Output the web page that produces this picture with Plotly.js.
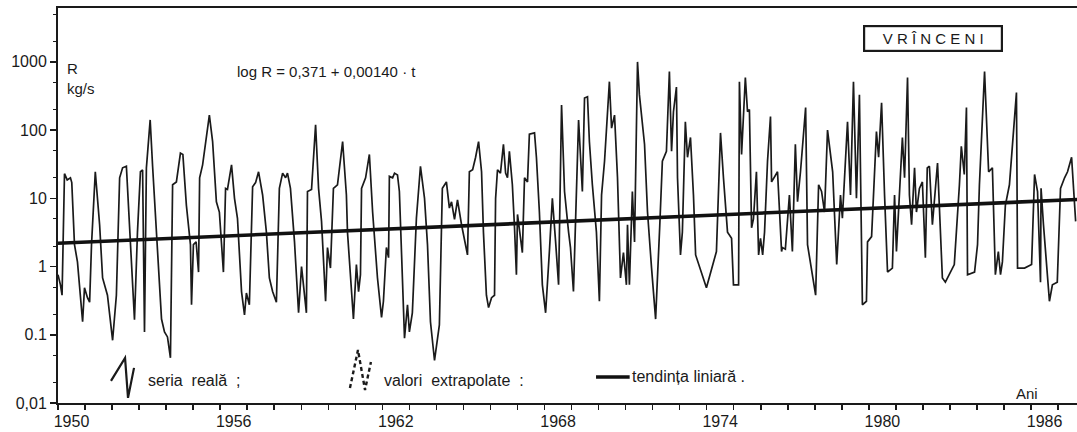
<!DOCTYPE html>
<html>
<head>
<meta charset="utf-8">
<script src="https://cdn.plot.ly/plotly-3.0.1.min.js"></script>
<style>html,body{margin:0;padding:0;background:#fff;}#chart{width:1077px;height:432px;}</style>
</head>
<body>
<div id="chart"></div>
<script>
// Real series (vertices): decimal year and R in kg/s
const years = [
1950.00,1950.09,1950.15,1950.24,1950.34,1950.46,1950.51,1950.61,1950.72,1950.91,1950.98,
1951.09,1951.17,1951.24,1951.38,1951.54,1951.65,1951.83,
1952.02,1952.16,1952.28,1952.39,1952.53,1952.72,1952.83,1952.94,
1953.05,1953.13,1953.20,1953.27,1953.41,1953.50,1953.64,1953.76,1953.83,1953.94,
1954.05,1954.16,1954.24,1954.38,1954.53,1954.62,1954.75,1954.90,1954.94,
1955.01,1955.11,1955.20,1955.24,1955.35,1955.49,1955.60,1955.72,1955.86,1955.97,
1956.05,1956.12,1956.20,1956.27,1956.42,1956.53,1956.64,1956.79,1956.90,1956.97,
1957.08,1957.20,1957.31,1957.42,1957.57,1957.71,1957.82,1957.94,
1958.08,1958.19,1958.31,1958.42,1958.49,1958.60,1958.75,1958.90,
1959.01,1959.08,1959.19,1959.23,1959.38,1959.53,1959.64,1959.75,1959.90,1959.97,
1960.08,1960.19,1960.34,1960.53,1960.67,1960.71,1960.93,
1961.04,1961.12,1961.19,1961.23,1961.38,1961.52,1961.64,1961.82,1961.97,
1962.04,1962.15,1962.23,1962.26,1962.38,1962.45,1962.56,1962.63,1962.71,1962.82,1962.93,
1963.00,1963.11,1963.26,1963.41,1963.56,1963.67,1963.78,1963.93,
1964.11,1964.22,1964.37,1964.48,1964.56,1964.67,1964.78,1964.93,
1965.11,1965.15,1965.22,1965.34,1965.45,1965.56,1965.67,1965.74,1965.85,1965.93,
1966.04,1966.15,1966.19,1966.26,1966.37,1966.48,1966.56,1966.63,1966.70,1966.81,1966.89,1966.96,
1967.00,1967.11,1967.18,1967.26,1967.37,1967.44,1967.63,1967.70,1967.81,1967.92,
1968.04,1968.18,1968.29,1968.41,1968.52,1968.63,1968.74,1968.89,1968.96,
1969.07,1969.26,1969.40,1969.48,1969.59,1969.66,1969.77,1969.92,
1970.03,1970.11,1970.22,1970.29,1970.40,1970.48,1970.59,1970.70,1970.81,1970.92,
1971.03,1971.07,1971.14,1971.25,1971.33,1971.44,1971.51,1971.70,1971.81,1971.96,
1972.11,1972.26,1972.36,1972.51,1972.62,1972.70,1972.77,1972.88,1972.92,
1973.03,1973.10,1973.21,1973.29,1973.40,1973.51,1973.59,1973.81,1973.99,
1974.36,1974.51,1974.62,1974.77,1974.92,1974.99,
1975.18,1975.21,1975.29,1975.43,1975.51,1975.58,1975.66,1975.73,1975.84,1975.92,1975.99,
1976.07,1976.14,1976.25,1976.36,1976.40,1976.62,1976.77,1976.80,1976.91,
1977.06,1977.17,1977.28,1977.36,1977.47,1977.66,1977.73,
1978.03,1978.14,1978.25,1978.36,1978.47,1978.66,1978.81,1978.95,
1979.02,1979.21,1979.32,1979.43,1979.54,1979.65,1979.76,1979.91,1979.95,
1980.10,1980.28,1980.36,1980.47,1980.58,1980.69,1980.87,1980.95,
1981.02,1981.24,1981.32,1981.43,1981.50,1981.58,1981.69,1981.76,1981.87,1981.98,
1982.09,1982.16,1982.24,1982.35,1982.54,1982.72,1982.83,
1983.16,1983.35,1983.42,1983.53,1983.61,1983.65,1983.91,
1984.02,1984.09,1984.28,1984.43,1984.57,1984.68,1984.79,1984.87,1984.94,
1985.05,1985.20,1985.31,1985.46,1985.50,1985.76,
1986.02,1986.13,1986.24,1986.35,1986.37,1986.46,1986.68,1986.79,1986.97,
1987.09,1987.24,1987.35,1987.50,1987.57,1987.65
];
const rValues = [
0.76,0.54,0.38,23,18.6,20,17,2.1,1.17,0.155,0.49,
0.35,0.3,2.1,24.5,4.1,0.68,0.38,
0.083,0.38,20,28,29.5,1.35,0.166,3.2,
24.5,26,0.11,28,141,29.5,3.2,0.38,0.17,0.11,
0.093,0.046,15.8,17.4,46,44,7.9,2.1,0.275,
2.1,2.3,0.83,20,31,78,166,68,8.9,6.3,
2.3,0.83,14,13.5,31,10,5.1,0.43,0.195,0.41,
0.275,14.8,17,24.5,11.2,3.2,0.68,0.43,
0.3,14,23.4,20,23.4,14,2.3,0.21,
1.0,0.54,0.21,12.6,13.5,120,14,4.6,0.31,1.9,
0.95,14,15.8,68,11.2,3.2,0.17,
1.07,0.43,0.76,14,20,44,6.3,0.68,0.18,
0.31,1.9,1.35,21,20,23.4,22,12.6,1.66,0.089,0.275,
0.11,0.21,5.1,29.5,10,2.1,0.155,0.042,
0.14,14,17.4,7.2,8.9,4.9,9.5,4.1,
1.66,1.48,24.5,26.3,40,68,24.5,3.2,0.38,0.25,
0.35,0.38,10,26.3,23.4,62,23.4,20,49,15.8,3.7,0.76,
5.8,2.3,1.6,20,17.4,87,91,40,6.3,0.54,
0.21,1.66,10,2.3,0.54,234,12.6,3.2,1.9,
0.43,141,12.6,295,309,68,15.8,3.2,
0.31,11.2,35,107,513,107,166,20,0.68,1.6,
0.54,4.1,0.54,12.6,2.3,1000,331,62,6.3,0.95,
0.17,3.7,35,49,724,49,186,427,20,
1.48,3.2,132,40,78,11.2,1.48,0.83,0.49,
1.66,91,20,3.2,2.6,0.54,
0.54,513,44,589,186,200,3.7,5,24.5,1.48,2.6,
1.48,3.2,35,158,17.4,24.5,1.66,1.9,1.8,
11.2,1.66,62,8.9,24.5,214,2.1,
0.38,15.8,12.6,6.3,100,24.5,1.07,11.2,
5.1,132,11.2,513,10,331,0.275,0.31,2.3,
2.75,95,40,251,11.2,0.83,0.95,11.2,
1.66,78,20,589,11.2,4.1,28,6.3,14,17.4,
1.35,28,29.5,4.1,33,0.68,0.59,
1.07,15.8,58,22.4,214,0.76,0.83,
2.1,15.8,724,24.5,28,0.76,1.66,0.76,1.17,
7.9,15.8,68,355,0.95,0.95,
1.07,22.4,12.6,0.59,14,4.1,0.31,0.54,0.59,
14,20,24.5,40,15.8,4.6
];
// Linear trend (log R = 0,371 + 0,00140 t), end values
const trendYears = [1950.0, 1987.70];
const trendValues = [2.2, 9.6];

// Axis labels
const yTickVals = [0.01, 0.1, 1, 10, 100, 1000];
const yTickText = ['0,01', '0.1', '1', '10', '100', '1000'];
const yMinorVals = [0.02,0.05,0.2,0.5,2,5,20,50,200,500,2000,5000];
const xTickYears = [1950,1951,1952,1953,1954,1955,1956,1957,1958,1959,1960,1961,1962,1963,1964,1965,1966,1967,1968,1969,1970,1971,1972,1973,1974,1975,1976,1977,1978,1979,1980,1981,1982,1983,1984,1985,1986,1987];
const xLabelYears = [1950, 1956, 1962, 1968, 1974, 1980, 1986];
const xLabelPos = xLabelYears.map(y => y + 0.5);
const xLabelText = xLabelYears.map(String);

const FONT = 'Liberation Sans, Arial, sans-serif';
const INK = '#1a1a1a';

const traces = [
  {x: years, y: rValues, type: 'scatter', mode: 'lines', xaxis: 'x', yaxis: 'y',
   line: {color: INK, width: 1.7}, hoverinfo: 'skip', showlegend: false},
  {x: trendYears, y: trendValues, type: 'scatter', mode: 'lines', xaxis: 'x2', yaxis: 'y',
   line: {color: '#111', width: 3.6}, hoverinfo: 'skip', showlegend: false}
];

function zig(pts, dash, w) {
  let p = 'M' + pts.map(q => q[0] + ',' + q[1]).join(' L');
  return {type: 'path', xref: 'paper', yref: 'paper', path: p,
          line: {color: INK, width: w || 2, dash: dash || 'solid'}};
}

const xRange = [1950.0, 1987.70];

const layout = {
  width: 1077, height: 432,
  margin: {l: 58, r: 0, t: 8, b: 29},
  paper_bgcolor: '#fff', plot_bgcolor: '#fff',
  font: {family: FONT, color: INK, size: 15},
  showlegend: false,
  xaxis: {
    range: xRange, showgrid: false, zeroline: false,
    showline: true, linecolor: INK, linewidth: 2, mirror: true,
    tickmode: 'array', tickvals: xTickYears, ticktext: xTickYears.map(() => ''),
    ticks: 'outside', ticklen: 5, tickwidth: 1.5, tickcolor: INK
  },
  xaxis2: {
    range: xRange, overlaying: 'x', anchor: 'y', side: 'bottom',
    showgrid: false, zeroline: false, showline: false,
    tickmode: 'array', tickvals: xLabelPos, ticktext: xLabelText,
    ticks: 'outside', ticklen: 4, tickcolor: 'rgba(0,0,0,0)',
    tickfont: {size: 16, family: FONT, color: INK}
  },
  yaxis: {
    type: 'log', range: [-2, 3.79], showgrid: false, zeroline: false,
    showline: true, linecolor: INK, linewidth: 2, mirror: false,
    tickmode: 'array', tickvals: yTickVals, ticktext: yTickText,
    ticks: 'outside', ticklen: 6, tickwidth: 1.5, tickcolor: INK,
    tickfont: {size: 16, family: FONT, color: INK},
    minor: {tickmode: 'array', tickvals: yMinorVals, ticks: 'outside',
            ticklen: 3, tickwidth: 1, tickcolor: INK, showgrid: false}
  },
  shapes: [
    zig([[0.0520,0.056],[0.0658,0.114],[0.0687,0.013],[0.0746,0.089]], 'solid', 2.2),
    zig([[0.2865,0.038],[0.2944,0.134],[0.3013,0.033],[0.3071,0.104]], '4px,3px', 2.4),
    {type: 'line', xref: 'paper', yref: 'paper', x0: 0.528, x1: 0.561, y0: 0.066, y1: 0.066,
     line: {color: '#111', width: 3.6}}
  ],
  annotations: [
    {text: 'R', xref: 'paper', yref: 'paper', x: 0.007, y: 0.848, xanchor: 'left', yanchor: 'middle', showarrow: false, font: {size: 15}},
    {text: 'kg/s', xref: 'paper', yref: 'paper', x: 0.007, y: 0.797, xanchor: 'left', yanchor: 'middle', showarrow: false, font: {size: 15}},
    {text: 'log R = 0,371 + 0,00140 · t', xref: 'paper', yref: 'paper', x: 0.174, y: 0.838, xanchor: 'left', yanchor: 'middle', showarrow: false, font: {size: 15}},
    {text: 'V R Î N C E N I', xref: 'paper', yref: 'paper', x: 0.8585, y: 0.924, xanchor: 'center', yanchor: 'middle', showarrow: false,
     width: 130, align: 'center',
     font: {size: 15}, bordercolor: INK, borderwidth: 2.2, borderpad: 3, bgcolor: '#fff'},
    {text: 'seria  reală  ;', xref: 'paper', yref: 'paper', x: 0.086, y: 0.056, xanchor: 'left', yanchor: 'middle', showarrow: false, font: {size: 16}},
    {text: 'valori  extrapolate  :', xref: 'paper', yref: 'paper', x: 0.318, y: 0.056, xanchor: 'left', yanchor: 'middle', showarrow: false, font: {size: 16}},
    {text: 'tendința liniară .', xref: 'paper', yref: 'paper', x: 0.561, y: 0.066, xanchor: 'left', yanchor: 'middle', showarrow: false, font: {size: 16}},
    {text: 'Ani', xref: 'paper', yref: 'paper', x: 0.951, y: 0.025, xanchor: 'center', yanchor: 'middle', showarrow: false, font: {size: 15}}
  ]
};

Plotly.newPlot('chart', traces, layout, {displayModeBar: false, staticPlot: true});
</script>
</body>
</html>
